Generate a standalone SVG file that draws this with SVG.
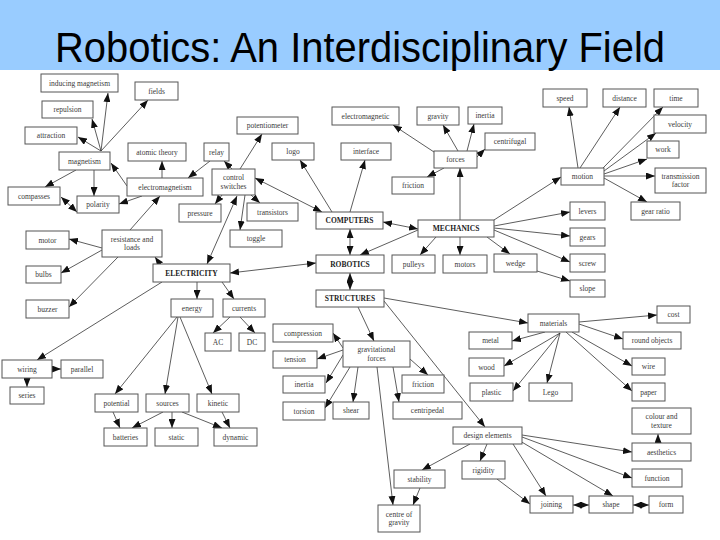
<svg xmlns="http://www.w3.org/2000/svg" width="720" height="540" viewBox="0 0 720 540">
<style>
.n rect{fill:#fff;stroke:#555;stroke-width:1}
.n text{font-family:"Liberation Serif","Times New Roman",serif;font-size:7.5px;fill:#3a3a3a;text-anchor:middle}
.b text{font-weight:bold;fill:#222}
.c line{stroke:#333;stroke-width:0.8;marker-end:url(#ah)}
.c line.d{marker-start:url(#ah)}
.title{font-family:"Liberation Sans",Arial,sans-serif;font-size:43px;fill:#000;text-anchor:middle}
</style>
<defs>
<marker id="ah" markerUnits="userSpaceOnUse" markerWidth="9" markerHeight="7" refX="9" refY="3.5" orient="auto-start-reverse"><path d="M0,0 L9,3.5 L0,7 z" fill="#111"/></marker>
</defs>
<rect x="0" y="0" width="720" height="540" fill="#fff"/>
<g id="header">
<rect x="0" y="0" width="720" height="70" fill="#99CCFF"/>
<text class="title" x="360" y="62" textLength="610" lengthAdjust="spacingAndGlyphs">Robotics: An Interdisciplinary Field</text>
</g>
<g id="connectors" class="c">
<line x1="101" y1="151" x2="108" y2="93"/>
<line x1="101" y1="151" x2="92" y2="119"/>
<line x1="101" y1="151" x2="78" y2="137"/>
<line x1="101" y1="151" x2="148" y2="100"/>
<line x1="76" y1="170" x2="45" y2="187"/>
<line x1="94" y1="170" x2="94" y2="196"/>
<line class="d" x1="61" y1="197" x2="77" y2="212"/>
<line x1="127" y1="186" x2="111" y2="163"/>
<line x1="142" y1="196" x2="119" y2="204"/>
<line x1="162" y1="178" x2="162" y2="161"/>
<line x1="210" y1="161" x2="188" y2="178"/>
<line x1="232" y1="169" x2="224" y2="161"/>
<line x1="222" y1="195" x2="215" y2="204"/>
<line x1="130" y1="230" x2="160" y2="196"/>
<line x1="240" y1="169" x2="262" y2="134"/>
<line x1="245" y1="195" x2="240" y2="230"/>
<line x1="251" y1="195" x2="260" y2="203"/>
<line class="d" x1="255" y1="178" x2="322" y2="212"/>
<line x1="332" y1="212" x2="300" y2="160"/>
<line x1="350" y1="212" x2="365" y2="160"/>
<line class="d" x1="383" y1="222" x2="418" y2="229"/>
<line x1="460" y1="220" x2="460" y2="168"/>
<line x1="434" y1="152" x2="393" y2="125"/>
<line x1="458" y1="151" x2="443" y2="125"/>
<line x1="467" y1="151" x2="474" y2="124"/>
<line x1="477" y1="157" x2="485" y2="149"/>
<line x1="444" y1="168" x2="427" y2="177"/>
<line x1="494" y1="220" x2="561" y2="177"/>
<line x1="494" y1="226" x2="570" y2="212"/>
<line x1="578" y1="168" x2="569" y2="107"/>
<line x1="580" y1="168" x2="620" y2="107"/>
<line x1="603" y1="168" x2="663" y2="107"/>
<line x1="604" y1="171" x2="656" y2="133"/>
<line x1="604" y1="174" x2="647" y2="159"/>
<line x1="604" y1="176" x2="655" y2="176"/>
<line x1="604" y1="178" x2="647" y2="202"/>
<line x1="494" y1="228" x2="570" y2="236"/>
<line x1="494" y1="230" x2="570" y2="262"/>
<line x1="487" y1="237" x2="510" y2="254"/>
<line x1="537" y1="271" x2="570" y2="281"/>
<line x1="436" y1="237" x2="420" y2="255"/>
<line x1="460" y1="237" x2="460" y2="255"/>
<line x1="418" y1="230" x2="360" y2="255"/>
<line class="d" x1="350" y1="229" x2="350" y2="255"/>
<line class="d" x1="350" y1="273" x2="350" y2="290"/>
<line class="d" x1="316" y1="263" x2="230" y2="273"/>
<line x1="358" y1="307" x2="374" y2="341"/>
<line x1="384" y1="298" x2="528" y2="323"/>
<line x1="384" y1="301" x2="485" y2="427"/>
<line x1="343" y1="348" x2="333" y2="333"/>
<line x1="343" y1="350" x2="317" y2="359"/>
<line x1="343" y1="355" x2="326" y2="383"/>
<line x1="350" y1="367" x2="325" y2="408"/>
<line x1="358" y1="367" x2="353" y2="402"/>
<line x1="410" y1="359" x2="428" y2="375"/>
<line x1="393" y1="367" x2="399" y2="402"/>
<line x1="377" y1="367" x2="393" y2="505"/>
<line x1="420" y1="488" x2="413" y2="505"/>
<line x1="470" y1="444" x2="422" y2="470"/>
<line x1="487" y1="444" x2="480" y2="461"/>
<line x1="497" y1="479" x2="530" y2="504"/>
<line x1="513" y1="444" x2="546" y2="496"/>
<line x1="520" y1="441" x2="613" y2="496"/>
<line x1="522" y1="437" x2="632" y2="478"/>
<line x1="522" y1="435" x2="632" y2="452"/>
<line x1="658" y1="443" x2="658" y2="434"/>
<line class="d" x1="573" y1="505" x2="589" y2="505"/>
<line class="d" x1="633" y1="505" x2="649" y2="505"/>
<line x1="579" y1="322" x2="657" y2="315"/>
<line x1="579" y1="324" x2="623" y2="339"/>
<line x1="572" y1="332" x2="632" y2="366"/>
<line x1="566" y1="332" x2="632" y2="391"/>
<line x1="545" y1="332" x2="512" y2="341"/>
<line x1="560" y1="333" x2="504" y2="366"/>
<line x1="560" y1="333" x2="513" y2="391"/>
<line x1="560" y1="333" x2="547" y2="383"/>
<line x1="160" y1="264" x2="155" y2="257"/>
<line x1="102" y1="248" x2="69" y2="239"/>
<line x1="102" y1="250" x2="61" y2="273"/>
<line x1="118" y1="257" x2="69" y2="307"/>
<line x1="162" y1="282" x2="37" y2="360"/>
<line x1="52" y1="369" x2="61" y2="369"/>
<line x1="27" y1="378" x2="27" y2="387"/>
<line x1="197" y1="282" x2="197" y2="299"/>
<line x1="222" y1="282" x2="234" y2="299"/>
<line x1="230" y1="317" x2="213" y2="333"/>
<line x1="240" y1="317" x2="255" y2="333"/>
<line x1="177" y1="317" x2="115" y2="394"/>
<line x1="178" y1="317" x2="165" y2="394"/>
<line x1="180" y1="317" x2="212" y2="394"/>
<line x1="113" y1="412" x2="120" y2="428"/>
<line x1="163" y1="412" x2="132" y2="428"/>
<line x1="172" y1="412" x2="172" y2="428"/>
<line x1="182" y1="412" x2="222" y2="428"/>
<line x1="222" y1="412" x2="230" y2="428"/>
<line class="d" x1="237" y1="196" x2="207" y2="264"/>
</g>
<g id="n-inducing-magnetism" class="n"><rect x="41" y="74" width="77" height="18"/><text x="79.5" y="85.6">inducing magnetism</text></g>
<g id="n-fields" class="n"><rect x="135" y="82" width="43" height="18"/><text x="156.5" y="93.6">fields</text></g>
<g id="n-repulsion" class="n"><rect x="42" y="101" width="51" height="17"/><text x="67.5" y="112.1">repulsion</text></g>
<g id="n-attraction" class="n"><rect x="25" y="127" width="52" height="17"/><text x="51" y="138.1">attraction</text></g>
<g id="n-magnetism" class="n"><rect x="59" y="152" width="51" height="18"/><text x="84.5" y="163.6">magnetism</text></g>
<g id="n-atomic-theory" class="n"><rect x="128" y="143" width="58" height="18"/><text x="157" y="154.6">atomic theory</text></g>
<g id="n-relay" class="n"><rect x="204" y="143" width="25" height="18"/><text x="216.5" y="154.6">relay</text></g>
<g id="n-electromagnetism" class="n"><rect x="127" y="178" width="76" height="18"/><text x="165" y="189.6">electromagnetism</text></g>
<g id="n-compasses" class="n"><rect x="8" y="187" width="52" height="18"/><text x="34" y="198.6">compasses</text></g>
<g id="n-polarity" class="n"><rect x="77" y="196" width="42" height="17"/><text x="98" y="207.1">polarity</text></g>
<g id="n-control-switches" class="n"><rect x="212" y="169" width="43" height="26"/><text x="233.5" y="180.4">control</text><text x="233.5" y="188.9">switches</text></g>
<g id="n-pressure" class="n"><rect x="179" y="204" width="42" height="18"/><text x="200" y="215.6">pressure</text></g>
<g id="n-potentiometer" class="n"><rect x="237" y="117" width="61" height="17"/><text x="267.5" y="128.1">potentiometer</text></g>
<g id="n-logo" class="n"><rect x="272" y="143" width="42" height="17"/><text x="293" y="154.1">logo</text></g>
<g id="n-interface" class="n"><rect x="341" y="143" width="50" height="17"/><text x="366" y="154.1">interface</text></g>
<g id="n-electromagnetic" class="n"><rect x="332" y="107" width="67" height="18"/><text x="365.5" y="118.6">electromagnetic</text></g>
<g id="n-gravity" class="n"><rect x="417" y="107" width="42" height="18"/><text x="438" y="118.6">gravity</text></g>
<g id="n-inertia-1" class="n"><rect x="468" y="107" width="34" height="17"/><text x="485" y="118.1">inertia</text></g>
<g id="n-forces" class="n"><rect x="434" y="151" width="43" height="17"/><text x="455.5" y="162.1">forces</text></g>
<g id="n-friction-1" class="n"><rect x="392" y="177" width="42" height="17"/><text x="413" y="188.1">friction</text></g>
<g id="n-transistors" class="n"><rect x="247" y="203" width="51" height="18"/><text x="272.5" y="214.6">transistors</text></g>
<g id="n-centrifugal" class="n"><rect x="485" y="133" width="50" height="17"/><text x="510" y="144.1">centrifugal</text></g>
<g id="n-computers" class="n b"><rect x="316" y="212" width="67" height="17"/><text x="349.5" y="223.1">COMPUTERS</text></g>
<g id="n-mechanics" class="n b"><rect x="418" y="220" width="76" height="17"/><text x="456" y="231.1">MECHANICS</text></g>
<g id="n-speed" class="n"><rect x="543" y="89" width="44" height="18"/><text x="565" y="100.6">speed</text></g>
<g id="n-distance" class="n"><rect x="603" y="89" width="43" height="18"/><text x="624.5" y="100.6">distance</text></g>
<g id="n-time" class="n"><rect x="654" y="89" width="44" height="18"/><text x="676" y="100.6">time</text></g>
<g id="n-velocity" class="n"><rect x="654" y="115" width="52" height="18"/><text x="680" y="126.6">velocity</text></g>
<g id="n-work" class="n"><rect x="647" y="141" width="32" height="17"/><text x="663" y="152.1">work</text></g>
<g id="n-motion" class="n"><rect x="561" y="168" width="43" height="17"/><text x="582.5" y="179.1">motion</text></g>
<g id="n-transmission-factor" class="n"><rect x="655" y="168" width="51" height="25"/><text x="680.5" y="178.9">transmission</text><text x="680.5" y="187.4">factor</text></g>
<g id="n-levers" class="n"><rect x="570" y="202" width="35" height="18"/><text x="587.5" y="213.6">levers</text></g>
<g id="n-gear-ratio" class="n"><rect x="631" y="202" width="49" height="18"/><text x="655.5" y="213.6">gear ratio</text></g>
<g id="n-gears" class="n"><rect x="570" y="228" width="35" height="18"/><text x="587.5" y="239.6">gears</text></g>
<g id="n-screw" class="n"><rect x="570" y="254" width="35" height="18"/><text x="587.5" y="265.6">screw</text></g>
<g id="n-slope" class="n"><rect x="570" y="280" width="35" height="17"/><text x="587.5" y="291.1">slope</text></g>
<g id="n-wedge" class="n"><rect x="494" y="254" width="43" height="18"/><text x="515.5" y="265.6">wedge</text></g>
<g id="n-motors" class="n"><rect x="443" y="255" width="44" height="18"/><text x="465" y="266.6">motors</text></g>
<g id="n-pulleys" class="n"><rect x="392" y="255" width="43" height="18"/><text x="413.5" y="266.6">pulleys</text></g>
<g id="n-robotics" class="n b"><rect x="316" y="255" width="68" height="18"/><text x="350" y="266.6">ROBOTICS</text></g>
<g id="n-structures" class="n b"><rect x="316" y="290" width="68" height="17"/><text x="350" y="301.1">STRUCTURES</text></g>
<g id="n-toggle" class="n"><rect x="230" y="230" width="52" height="17"/><text x="256" y="241.1">toggle</text></g>
<g id="n-motor" class="n"><rect x="26" y="231" width="43" height="18"/><text x="47.5" y="242.6">motor</text></g>
<g id="n-resistance-loads" class="n"><rect x="102" y="230" width="60" height="27"/><text x="132" y="241.9">resistance and</text><text x="132" y="250.4">loads</text></g>
<g id="n-bulbs" class="n"><rect x="26" y="266" width="35" height="17"/><text x="43.5" y="277.1">bulbs</text></g>
<g id="n-buzzer" class="n"><rect x="26" y="300" width="43" height="18"/><text x="47.5" y="311.6">buzzer</text></g>
<g id="n-electricity" class="n b"><rect x="153" y="264" width="77" height="18"/><text x="191.5" y="275.6">ELECTRICITY</text></g>
<g id="n-energy" class="n"><rect x="171" y="299" width="42" height="18"/><text x="192" y="310.6">energy</text></g>
<g id="n-currents" class="n"><rect x="223" y="299" width="42" height="18"/><text x="244" y="310.6">currents</text></g>
<g id="n-ac" class="n"><rect x="205" y="333" width="26" height="18"/><text x="218" y="344.6">AC</text></g>
<g id="n-dc" class="n"><rect x="239" y="333" width="26" height="18"/><text x="252" y="344.6">DC</text></g>
<g id="n-wiring" class="n"><rect x="2" y="360" width="50" height="18"/><text x="27" y="371.6">wiring</text></g>
<g id="n-parallel" class="n"><rect x="61" y="360" width="42" height="18"/><text x="82" y="371.6">parallel</text></g>
<g id="n-series" class="n"><rect x="10" y="387" width="34" height="17"/><text x="27" y="398.1">series</text></g>
<g id="n-potential" class="n"><rect x="95" y="394" width="43" height="18"/><text x="116.5" y="405.6">potential</text></g>
<g id="n-sources" class="n"><rect x="146" y="394" width="43" height="18"/><text x="167.5" y="405.6">sources</text></g>
<g id="n-kinetic" class="n"><rect x="197" y="394" width="42" height="18"/><text x="218" y="405.6">kinetic</text></g>
<g id="n-batteries" class="n"><rect x="104" y="428" width="43" height="18"/><text x="125.5" y="439.6">batteries</text></g>
<g id="n-static" class="n"><rect x="155" y="428" width="43" height="18"/><text x="176.5" y="439.6">static</text></g>
<g id="n-dynamic" class="n"><rect x="214" y="428" width="43" height="18"/><text x="235.5" y="439.6">dynamic</text></g>
<g id="n-compression" class="n"><rect x="273" y="324" width="60" height="18"/><text x="303" y="335.6">compression</text></g>
<g id="n-tension" class="n"><rect x="273" y="351" width="44" height="17"/><text x="295" y="362.1">tension</text></g>
<g id="n-gravitational-forces" class="n"><rect x="343" y="341" width="67" height="26"/><text x="376.5" y="352.4">gravitational</text><text x="376.5" y="360.9">forces</text></g>
<g id="n-inertia-2" class="n"><rect x="283" y="376" width="42" height="17"/><text x="304" y="387.1">inertia</text></g>
<g id="n-friction-2" class="n"><rect x="402" y="375" width="42" height="18"/><text x="423" y="386.6">friction</text></g>
<g id="n-torsion" class="n"><rect x="283" y="402" width="42" height="18"/><text x="304" y="413.6">torsion</text></g>
<g id="n-shear" class="n"><rect x="333" y="402" width="36" height="17"/><text x="351" y="413.1">shear</text></g>
<g id="n-centripedal" class="n"><rect x="393" y="402" width="69" height="17"/><text x="427.5" y="413.1">centripedal</text></g>
<g id="n-materials" class="n"><rect x="528" y="314" width="51" height="18"/><text x="553.5" y="325.6">materials</text></g>
<g id="n-cost" class="n"><rect x="657" y="306" width="33" height="17"/><text x="673.5" y="317.1">cost</text></g>
<g id="n-metal" class="n"><rect x="469" y="332" width="43" height="17"/><text x="490.5" y="343.1">metal</text></g>
<g id="n-round-objects" class="n"><rect x="623" y="332" width="58" height="17"/><text x="652" y="343.1">round objects</text></g>
<g id="n-wood" class="n"><rect x="469" y="358" width="35" height="18"/><text x="486.5" y="369.6">wood</text></g>
<g id="n-wire" class="n"><rect x="632" y="358" width="33" height="17"/><text x="648.5" y="369.1">wire</text></g>
<g id="n-plastic" class="n"><rect x="470" y="383" width="43" height="18"/><text x="491.5" y="394.6">plastic</text></g>
<g id="n-lego" class="n"><rect x="529" y="383" width="43" height="18"/><text x="550.5" y="394.6">Lego</text></g>
<g id="n-paper" class="n"><rect x="632" y="383" width="33" height="18"/><text x="648.5" y="394.6">paper</text></g>
<g id="n-colour-texture" class="n"><rect x="632" y="408" width="59" height="26"/><text x="661.5" y="419.4">colour and</text><text x="661.5" y="427.9">texture</text></g>
<g id="n-design-elements" class="n"><rect x="453" y="427" width="69" height="17"/><text x="487.5" y="438.1">design elements</text></g>
<g id="n-aesthetics" class="n"><rect x="632" y="443" width="59" height="18"/><text x="661.5" y="454.6">aesthetics</text></g>
<g id="n-rigidity" class="n"><rect x="462" y="461" width="43" height="18"/><text x="483.5" y="472.6">rigidity</text></g>
<g id="n-function" class="n"><rect x="632" y="469" width="50" height="18"/><text x="657" y="480.6">function</text></g>
<g id="n-joining" class="n"><rect x="530" y="496" width="43" height="17"/><text x="551.5" y="507.1">joining</text></g>
<g id="n-shape" class="n"><rect x="589" y="496" width="44" height="17"/><text x="611" y="507.1">shape</text></g>
<g id="n-form" class="n"><rect x="649" y="496" width="34" height="17"/><text x="666" y="507.1">form</text></g>
<g id="n-stability" class="n"><rect x="394" y="470" width="51" height="18"/><text x="419.5" y="481.6">stability</text></g>
<g id="n-centre-gravity" class="n"><rect x="378" y="505" width="42" height="27"/><text x="399" y="516.9">centre of</text><text x="399" y="525.4">gravity</text></g>
</svg>
